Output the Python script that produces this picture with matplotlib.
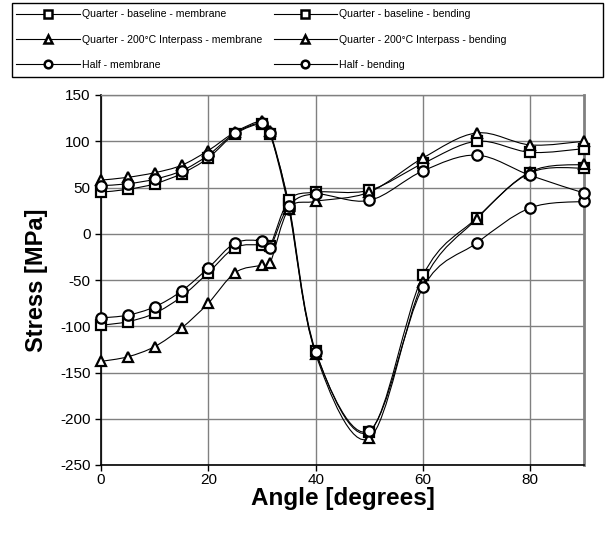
import numpy as np
import matplotlib
matplotlib.use("Agg")
import matplotlib.pyplot as plt
from matplotlib.path import Path
from matplotlib.patches import PathPatch, Rectangle
from matplotlib.lines import Line2D

plt.rcParams['font.family'] = ['Liberation Sans', 'DejaVu Sans']
plt.rcParams['axes.unicode_minus'] = False

# angles along the weld toe (degrees)
angle = [0, 5, 10, 15, 20, 25, 30, 31.5, 35, 40, 50, 60, 70, 80, 90]

# stresses [MPa]
qb_membrane = [45, 48, 54, 65, 82, 108, 119, 108, 32, -127, -214, -45, 17, 66, 71]
qi_membrane = [58, 61, 66, 74, 90, 110, 122, 111, 30, -130, -221, -52, 16, 67, 75]
half_membrane = [52, 54, 59, 68, 85, 109, 120, 109, 27, -128, -213, -58, -10, 28, 35]

qb_bending = [-99, -95, -86, -68, -42, -15, -12, -13, 36, 45, 47, 76, 100, 88, 92]
qi_bending = [-138, -133, -122, -102, -75, -42, -34, -32, 27, 35, 45, 82, 109, 96, 100]
half_bending = [-91, -88, -79, -62, -37, -10, -8, -15, 30, 43, 36, 68, 85, 63, 44]

labels = ['Quarter - baseline - membrane', 'Quarter - 200°C Interpass - membrane',
          'Half - membrane', 'Quarter - baseline - bending',
          'Quarter - 200°C Interpass - bending', 'Half - bending']
series = [qb_membrane, qi_membrane, half_membrane, qb_bending, qi_bending, half_bending]
markers = ['s', '^', 'o', 's', '^', 'o']


def smooth_path(x, y):
    # smoothed line through the points, cubic bezier segments
    pts = np.column_stack([x, y]).astype(float)
    verts = [pts[0]]
    codes = [Path.MOVETO]
    n = len(pts)
    for i in range(n - 1):
        p0 = pts[i - 1] if i > 0 else pts[i]
        p1 = pts[i]
        p2 = pts[i + 1]
        p3 = pts[i + 2] if i + 2 < n else pts[i + 1]
        verts += [p1 + (p2 - p0) / 6.0, p2 - (p3 - p1) / 6.0, p2]
        codes += [Path.CURVE4] * 3
    return Path(verts, codes)


fig = plt.figure(figsize=(6.13, 5.35), dpi=100)
ax = fig.add_axes([101 / 613, 1 - 465 / 535, 483 / 613, 370 / 535])

handles = []
for vals, mk, lab in zip(series, markers, labels):
    ax.add_patch(PathPatch(smooth_path(angle, vals), fill=False,
                           edgecolor='black', lw=0.8, zorder=3))
    ax.plot(angle, vals, linestyle='none', marker=mk, ms=7.5, mfc='white',
            mec='black', mew=1.6, clip_on=False, zorder=4)
    handles.append(Line2D([], [], color='black', lw=0.8, marker=mk, ms=5.5,
                          mfc='white', mec='black', mew=1.8, label=lab))

ax.set_xlim(0, 90)
ax.set_ylim(-250, 150)
ax.set_xticks([0, 20, 40, 60, 80])
ax.set_yticks(np.arange(-250, 151, 50))
ax.grid(True, color='#808080', lw=1.0)
ax.set_axisbelow(True)
ax.tick_params(direction='out', length=4, width=1, labelsize=11, colors='black')
ax.tick_params(axis='x', pad=2)

for side in ['left', 'bottom']:
    ax.spines[side].set_color('black')
    ax.spines[side].set_linewidth(1.2)
ax.spines['right'].set_color('#808080')
ax.spines['right'].set_linewidth(2)
ax.spines['top'].set_color('#808080')
ax.spines['top'].set_linewidth(1)

ax.set_xlabel('Angle [degrees]', fontsize=17.5, fontweight='bold', labelpad=0)
ax.set_ylabel('Stress [MPa]', fontsize=17, fontweight='bold', labelpad=9)

# legend box across the top
fig.patches.append(Rectangle((12 / 613, 1 - 77 / 535), 591 / 613, 74 / 535,
                             transform=fig.transFigure, fill=False,
                             edgecolor='black', lw=1.0))
leg = fig.legend(handles=handles, ncol=2, loc='upper left',
                 bbox_to_anchor=(12 / 613, 1 - 5 / 535),
                 fontsize=7.6, handlelength=6, handletextpad=0.2,
                 frameon=False, borderaxespad=0, labelspacing=1.45,
                 columnspacing=1.1)

fig.savefig('out.png', dpi=100)
